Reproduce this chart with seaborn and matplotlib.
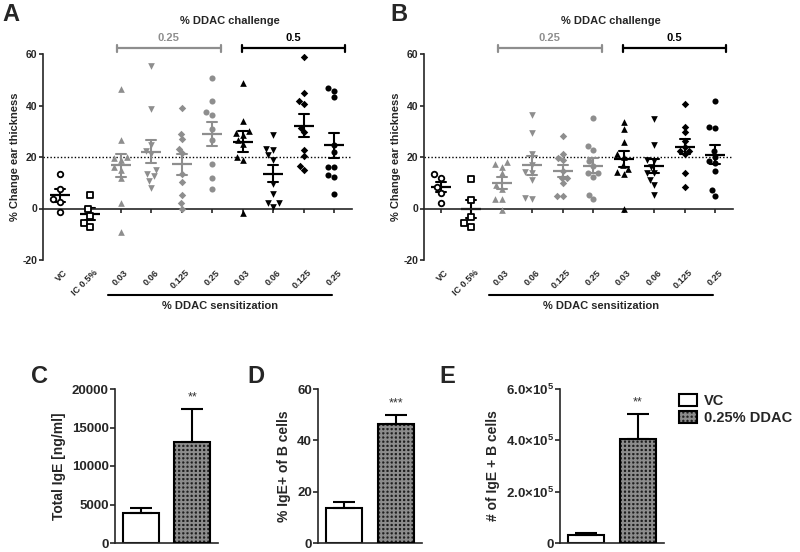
import matplotlib
matplotlib.use('Agg')
import numpy as np
import pandas as pd
import matplotlib.pyplot as plt
import matplotlib.transforms as mtransforms
from matplotlib.patches import Patch, Rectangle
from matplotlib.legend_handler import HandlerTuple
import seaborn as sns

# ---- data: ear swelling (% change) ----
groups = ['VC', 'IC', 'L003', 'L006', 'L0125', 'L025', 'H003', 'H006', 'H0125', 'H025']
tick_labels = ['VC', 'IC 0.5%', '0.03', '0.06', '0.125', '0.25', '0.03', '0.06', '0.125', '0.25']

a_vc = [13.5, 7.5, 3.5, 2.5, -1.5]
a_ic = [5.2, 0.0, -3.0, -5.5, -7.3]
a_l003 = [46.5, 26.5, 20.0, 19.5, 19.0, 16.0, 15.0, 12.0, 2.0, -9.3]
a_l006 = [55.3, 38.5, 24.5, 22.5, 21.0, 15.0, 13.5, 12.5, 10.5, 8.0]
a_l0125 = [39.0, 29.0, 27.0, 23.3, 21.5, 13.5, 10.3, 5.4, 2.0, 0.0]
a_l025 = [50.6, 41.7, 37.4, 36.5, 31.0, 26.5, 17.2, 12.0, 7.6]
a_h003 = [48.6, 33.8, 30.0, 29.5, 28.5, 26.7, 25.0, 20.0, 18.7, -1.7]
a_h006 = [28.6, 23.2, 22.6, 20.6, 19.0, 9.7, 5.5, 2.2, 2.2, 0.6]
a_h0125 = [58.7, 44.8, 41.7, 40.6, 31.4, 29.7, 22.8, 20.3, 16.4, 14.8]
a_h025 = [46.7, 45.8, 43.2, 24.5, 21.9, 16.1, 16.1, 13.2, 12.3, 5.5]

b_vc = [13.5, 12.0, 8.5, 6.0, 2.0]
b_ic = [11.5, 3.4, -3.4, -5.7, -7.3]
b_l003 = [18.0, 17.3, 16.3, 13.7, 9.0, 7.5, 3.8, 3.8, -0.5]
b_l006 = [36.3, 29.3, 21.3, 17.0, 14.0, 13.6, 11.0, 4.0, 3.8]
b_l0125 = [28.1, 21.0, 19.7, 18.9, 14.5, 12.0, 11.8, 9.8, 5.0, 5.0]
b_l025 = [35.1, 24.2, 22.9, 18.3, 16.5, 13.7, 13.7, 12.2, 5.4, 3.8]
b_h003 = [33.5, 30.9, 25.7, 21.0, 20.0, 17.0, 15.5, 14.0, 13.5, 0.0]
b_h006 = [34.8, 24.5, 19.0, 18.5, 16.0, 13.7, 13.7, 10.9, 9.0, 5.4]
b_h0125 = [40.4, 31.8, 29.6, 26.4, 24.0, 22.4, 22.4, 21.2, 13.9, 8.5]
b_h025 = [41.7, 31.6, 31.2, 22.3, 20.0, 18.4, 17.5, 14.4, 7.0, 5.0]

# ---- data: IgE bar panels (mean, SEM) ----
bar_groups = ['VC', '0.25% DDAC']
ige_total = [3950, 13100]
ige_total_sem = [650, 4350]
ige_pct = [13.6, 46.2]
ige_pct_sem = [2.4, 3.6]
ige_num = [3.2e4, 4.04e5]
ige_num_sem = [0.8e4, 0.99e5]
stars = ['**', '***', '**']

# ---- style ----
GRAY = '#8e8e8e'
markers = ['o', 's', '^', 'v', 'D', 'o', '^', 'v', 'D', 'o']
colors = ['black', 'black', GRAY, GRAY, GRAY, GRAY, 'black', 'black', 'black', 'black']
open_marker = [True, True] + [False] * 8
sizes = [4.0, 4.4, 4.8, 4.8, 3.8, 4.4, 4.8, 4.8, 3.8, 4.4]

sns.set_style('ticks')
plt.rcParams['font.family'] = ['Liberation Sans', 'DejaVu Sans']
plt.rcParams['font.weight'] = 'bold'
plt.rcParams['axes.linewidth'] = 1.2
plt.rcParams['mathtext.fontset'] = 'custom'
plt.rcParams['mathtext.rm'] = 'Liberation Sans:bold'
plt.rcParams['mathtext.bf'] = 'Liberation Sans:bold'
plt.rcParams['hatch.linewidth'] = 1.4

CHECK_FACE = '#1e1e1e'
CHECK_LINE = '#8c8c8c'
CHECK_HATCH = '++++'

fig = plt.figure(figsize=(8, 5.52), dpi=100)


def ear_panel(rect, values):
    ax = fig.add_axes(rect)
    df = pd.concat([pd.DataFrame({'group': g, 'change': v})
                    for g, v in zip(groups, values)], ignore_index=True)
    for g, m, c, op, s in zip(groups, markers, colors, open_marker, sizes):
        sub = df[df['group'] == g]
        if op:
            sns.swarmplot(data=sub, x='group', y='change', order=groups, ax=ax,
                          marker=m, color='white', edgecolor=c, size=s, linewidth=1.3)
        else:
            sns.swarmplot(data=sub, x='group', y='change', order=groups, ax=ax,
                          marker=m, color=c, size=s, linewidth=0)
        sns.pointplot(data=sub, x='group', y='change', order=groups, ax=ax,
                      errorbar='se', color=c, marker='_', markersize=15,
                      markeredgewidth=1.6, linestyle='none', capsize=0.32,
                      err_kws={'linewidth': 1.5})

    ax.set_xlim(-0.55, 9.58)
    ax.set_ylim(-20, 60)
    ax.set_yticks([-20, 0, 20, 40, 60])
    ax.set_yticklabels(['-20', '0', '20', '40', '60'], fontsize=7.5, fontweight='bold')
    ax.set_xticks(range(len(groups)))
    ax.set_xticklabels([])
    ax.spines[['top', 'right']].set_visible(False)
    ax.spines['bottom'].set_position(('data', 0))
    ax.tick_params(axis='both', direction='out', length=3, width=1.2, pad=1)
    ax.axhline(20, ls=(0, (1, 1.5)), color='black', lw=1.0, zorder=0)
    ax.set_xlabel('')
    ax.set_ylabel('% Change ear thickness', fontsize=8, fontweight='bold', labelpad=2)

    trans = mtransforms.blended_transform_factory(ax.transData, ax.transAxes)
    for i, lab in enumerate(tick_labels):
        ax.text(i + 0.2, -0.055, lab, rotation=45, ha='right', va='center',
                rotation_mode='anchor', transform=trans, fontsize=6.6,
                fontweight='bold')
    # sensitization underline
    ax.plot([1.57, 8.93], [-0.17, -0.17], transform=trans, color='black',
            lw=1.5, clip_on=False)
    ax.text(5.25, -0.225, '% DDAC sensitization', transform=trans,
            ha='center', va='center', fontsize=8, fontweight='bold')
    # challenge brackets
    for x0, x1, c, lab in [(1.88, 5.27, GRAY, '0.25'), (5.97, 9.36, 'black', '0.5')]:
        ax.plot([x0, x1], [1.029, 1.029], transform=trans, color=c, lw=1.6, clip_on=False)
        for xe in (x0, x1):
            ax.plot([xe, xe], [1.012, 1.046], transform=trans, color=c, lw=1.6, clip_on=False)
        ax.text((x0 + x1) / 2, 1.08, lab, transform=trans, ha='center',
                va='center', color=c, fontsize=8, fontweight='bold')
    ax.text(5.58, 1.16, '% DDAC challenge', transform=trans, ha='center',
            va='center', fontsize=8, fontweight='bold')
    return ax


def bar_panel(rect, vals, sems, star, yticks, yticklabels, ylabel, labelpad):
    ax = fig.add_axes(rect)
    sns.barplot(x=bar_groups, y=vals, order=bar_groups, ax=ax, color='white',
                width=0.7, edgecolor='black', linewidth=1.5, errorbar=None)
    hb = ax.patches[1]
    hb.set_facecolor(CHECK_FACE)
    hb.set_edgecolor(CHECK_LINE)
    hb.set_linewidth(0)
    hb.set_hatch(CHECK_HATCH)
    ax.add_patch(Rectangle((hb.get_x(), hb.get_y()), hb.get_width(), hb.get_height(),
                           fill=False, edgecolor='black', linewidth=1.5, zorder=3))
    ax.errorbar(x=range(len(vals)), y=vals, yerr=[[0] * len(vals), sems], fmt='none',
                ecolor='black', elinewidth=1.5, capsize=8, capthick=1.5, zorder=1)
    ax.annotate(star, xy=(1, vals[1] + sems[1]), xytext=(0, 4), textcoords='offset points',
                ha='center', va='bottom', fontsize=9, fontweight='normal', color='#333333')
    ax.set_xlim(-0.5, 1.5)
    ax.set_ylim(0, yticks[-1])
    ax.set_yticks(yticks)
    ax.set_yticklabels(yticklabels, fontsize=9.5, fontweight='bold')
    ax.set_xticks([])
    ax.spines[['top', 'right']].set_visible(False)
    ax.tick_params(axis='y', direction='out', length=3.5, width=1.2, pad=1)
    ax.set_ylabel(ylabel, fontsize=10, fontweight='bold', labelpad=labelpad)
    return ax


ear_panel([43 / 800, 1 - 260 / 552, 309 / 800, 206 / 552],
          [a_vc, a_ic, a_l003, a_l006, a_l0125, a_l025, a_h003, a_h006, a_h0125, a_h025])
ear_panel([424 / 800, 1 - 260 / 552, 309 / 800, 206 / 552],
          [b_vc, b_ic, b_l003, b_l006, b_l0125, b_l025, b_h003, b_h006, b_h0125, b_h025])

bot = 1 - 543 / 552
hgt = 154 / 552
bar_panel([115 / 800, bot, 103 / 800, hgt], ige_total, ige_total_sem, stars[0],
          [0, 5000, 10000, 15000, 20000], ['0', '5000', '10000', '15000', '20000'],
          'Total IgE [ng/ml]', 4)
bar_panel([318 / 800, bot, 104 / 800, hgt], ige_pct, ige_pct_sem, stars[1],
          [0, 20, 40, 60], ['0', '20', '40', '60'], '% IgE+ of B cells', 4)
bar_panel([560 / 800, bot, 104 / 800, hgt], ige_num, ige_num_sem, stars[2],
          [0, 2e5, 4e5, 6e5], ['0', r'2.0×10$^{5}$', r'4.0×10$^{5}$', r'6.0×10$^{5}$'],
          '# of IgE + B cells', 4)

# panel letters
for x, y, lab in [(2, 3, 'A'), (390, 3, 'B'), (31, 365, 'C'), (247, 365, 'D'), (439, 365, 'E')]:
    fig.text(x / 800, 1 - y / 552, lab, ha='left', va='top', fontsize=17, fontweight='bold')

# legend
hatch_fill = Patch(facecolor=CHECK_FACE, edgecolor=CHECK_LINE, linewidth=0, hatch=CHECK_HATCH)
hatch_edge = Patch(fill=False, edgecolor='black', linewidth=1.5)
fig.legend(handles=[Patch(facecolor='white', edgecolor='black', linewidth=1.5),
                    (hatch_fill, hatch_edge)],
           labels=bar_groups, loc='upper left', bbox_to_anchor=(679 / 800, 1 - 394 / 552),
           frameon=False, prop={'size': 10.5, 'weight': 'bold'},
           handler_map={tuple: HandlerTuple(ndivide=1, pad=0)},
           handlelength=1.2, handleheight=0.9, handletextpad=0.5,
           labelspacing=0.2, borderpad=0, borderaxespad=0)

fig.savefig('out.png', dpi=100)
